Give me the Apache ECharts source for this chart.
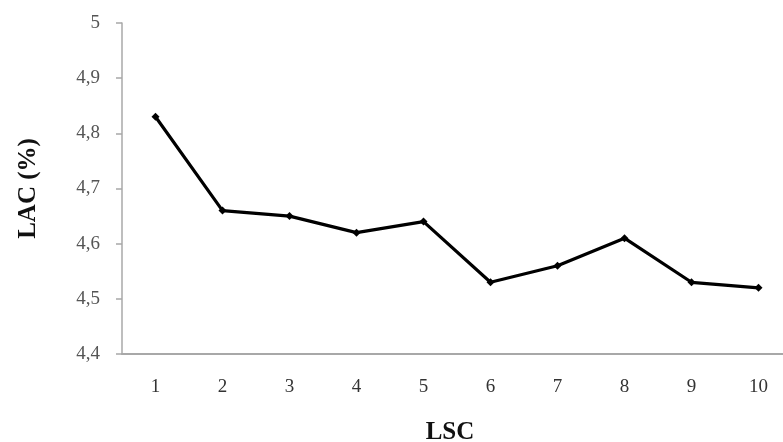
<!DOCTYPE html>
<html><head><meta charset="utf-8">
<script src="https://cdn.jsdelivr.net/npm/echarts@6/dist/echarts.min.js"></script>
<style>html,body{margin:0;padding:0;background:#fff}#c{width:783px;height:442px}</style>
</head><body><div id="c"></div>
<script>
var categories = ['1','2','3','4','5','6','7','8','9','10'];
var lacValues = [4.83, 4.66, 4.65, 4.62, 4.64, 4.53, 4.56, 4.61, 4.53, 4.52];
var yTicks = [4.4, 4.5, 4.6, 4.7, 4.8, 4.9, 5];

var chart = echarts.init(document.getElementById('c'));
chart.setOption({
  animation: false,
  backgroundColor: '#fff',
  grid: { left: 122, right: -9, top: 23, bottom: 88, outerBoundsMode: 'none', containLabel: false },
  xAxis: {
    type: 'category',
    data: categories,
    boundaryGap: true,
    name: 'LSC',
    nameLocation: 'middle',
    nameGap: 66,
    nameTextStyle: { fontFamily: 'Liberation Serif', fontWeight: 'bold', fontSize: 25, color: '#111', padding: [0, 14, 0, 0] },
    axisLine: { lineStyle: { color: '#a8a8a8', width: 2 } },
    axisTick: { show: false },
    axisLabel: { fontFamily: 'Liberation Serif', fontSize: 19, color: '#333', margin: 24 },
    splitLine: { show: false }
  },
  yAxis: {
    type: 'value',
    min: 4.4, max: 5, interval: 0.1,
    name: 'LAC (%)',
    nameLocation: 'middle',
    nameGap: 81,
    nameTextStyle: { fontFamily: 'Liberation Serif', fontWeight: 'bold', fontSize: 25, color: '#111' },
    axisLine: { show: true, lineStyle: { color: '#a8a8a8', width: 1.5 } },
    axisTick: { show: true, length: 6, lineStyle: { color: '#a8a8a8', width: 1.5 } },
    axisLabel: {
      fontFamily: 'Liberation Serif', fontSize: 19, color: '#555', margin: 22,
      formatter: function (v) {
        var t = yTicks.find(function (x) { return Math.abs(x - v) < 1e-6; });
        return String(t !== undefined ? t : +v.toFixed(1)).replace('.', ',');
      }
    },
    splitLine: { show: false }
  },
  series: [{
    type: 'line',
    data: lacValues,
    symbol: 'diamond',
    symbolSize: 8,
    lineStyle: { color: '#000', width: 3.2 },
    itemStyle: { color: '#000' }
  }]
});
</script></body></html>
